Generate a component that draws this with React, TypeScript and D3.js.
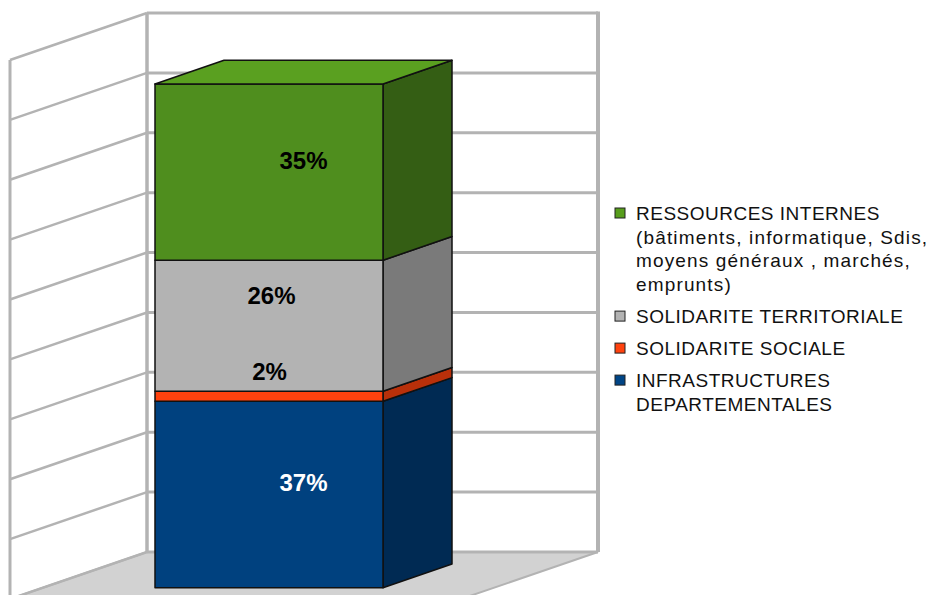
import React from "react";
import * as d3 from "d3";

// ---- data ----
const seriesNames = [
  "INFRASTRUCTURES DEPARTEMENTALES",
  "SOLIDARITE SOCIALE",
  "SOLIDARITE TERRITORIALE",
  "RESSOURCES INTERNES (bâtiments, informatique, Sdis, moyens généraux , marchés, emprunts)",
];
const legendLines = [
  ["INFRASTRUCTURES", "DEPARTEMENTALES"],
  ["SOLIDARITE SOCIALE"],
  ["SOLIDARITE TERRITORIALE"],
  ["RESSOURCES INTERNES", "(bâtiments, informatique, Sdis,", "moyens généraux , marchés,", "emprunts)"],
];
const values = [37, 2, 26, 35];
const valueLabels = ["37%", "2%", "26%", "35%"];
const axisMax = 107;
const gridCount = 9;

// colours: front, side, top, legend
const frontColors = ["#00417f", "#ff420e", "#b3b3b3", "#4f8e1e"];
const sideColors = ["#002a53", "#b8300a", "#7a7a7a", "#345e14"];
const topColors = ["#0a5299", "#ff6a3a", "#c8c8c8", "#5aa020"];
const legendColors = ["#004586", "#ff420e", "#b3b3b3", "#579d1c"];
const labelColors = ["#ffffff", "#000000", "#000000", "#000000"];

export default function App() {
  const W = 928, H = 595;
  const k = 0.343; // oblique depth slope
  const wallX0 = 147, wallX1 = 598;
  const y = d3.scaleLinear().domain([0, axisMax]).range([552, 13]);
  const wallDepth = 137;
  const barX0 = 259, barX1 = 487;
  const zBack = 35, zFront = 104;
  const P = (X: number, v: number, z: number): [number, number] => [X - z, y(v) + z * k];
  const poly = (pts: [number, number][]) => pts.map((p) => p.join(",")).join(" ");

  const stack = d3.stack<number[]>().keys(values.map((_, i) => String(i)))
    .value((d, key) => d[+key])([values]);

  const gridVals = d3.range(gridCount + 1).map((i) => (i * axisMax) / gridCount);
  const gridColor = "#b3b3b3";

  const labelDx = [0, -34, -32, 0];
  const labelDy = [0, -13, -19, 0];

  const legendX = 615;
  let cursor = 220;
  const legendItems = [3, 2, 1, 0].map((i) => {
    const first = cursor;
    const lines = legendLines[i].map((t, j) => ({ t, yb: first + j * 23.7 }));
    cursor = first + (legendLines[i].length - 1) * 23.7 + 32;
    return { i, first, lines };
  });

  return (
    <svg width={W} height={H} style={{ position: "absolute", left: 0, top: 0, background: "#fff" }}
      fontFamily="'Liberation Sans', Arial, sans-serif">
      <polygon points={poly([P(wallX0, 0, 0), P(wallX1, 0, 0), P(wallX1, 0, wallDepth), P(wallX0, 0, wallDepth)])}
        fill="#d2d2d2" stroke={gridColor} strokeWidth={2} />
      {gridVals.map((v, i) => (
        <g key={"g" + i}>
          <line x1={wallX0} x2={wallX1} y1={y(v)} y2={y(v)} stroke={gridColor} strokeWidth={3} />
          <line x1={P(wallX0, v, 0)[0]} y1={P(wallX0, v, 0)[1]} x2={P(wallX0, v, wallDepth)[0]} y2={P(wallX0, v, wallDepth)[1]}
            stroke={gridColor} strokeWidth={2.5} />
        </g>
      ))}
      <line x1={wallX0} x2={wallX0} y1={y(axisMax)} y2={y(0)} stroke={gridColor} strokeWidth={3.5} />
      <line x1={wallX1} x2={wallX1} y1={y(axisMax) - 1.5} y2={y(0)} stroke={gridColor} strokeWidth={4} />
      <line x1={P(wallX0, axisMax, wallDepth)[0]} x2={P(wallX0, 0, wallDepth)[0]}
        y1={P(wallX0, axisMax, wallDepth)[1]} y2={H} stroke={gridColor} strokeWidth={3} />

      {stack.map((s, i) => {
        const [v0, v1] = s[0] as unknown as [number, number];
        const front = [P(barX0, v0, zFront), P(barX1, v0, zFront), P(barX1, v1, zFront), P(barX0, v1, zFront)];
        const side = [P(barX1, v0, zFront), P(barX1, v0, zBack), P(barX1, v1, zBack), P(barX1, v1, zFront)];
        const top = [P(barX0, v1, zFront), P(barX1, v1, zFront), P(barX1, v1, zBack), P(barX0, v1, zBack)];
        return (
          <g key={"s" + i} stroke="#111" strokeWidth={1.5} strokeLinejoin="round">
            <polygon points={poly(side)} fill={sideColors[i]} />
            <polygon points={poly(front)} fill={frontColors[i]} />
            {i === stack.length - 1 && <polygon points={poly(top)} fill={topColors[i]} />}
          </g>
        );
      })}
      {stack.map((s, i) => {
        const [v0, v1] = s[0] as unknown as [number, number];
        const zm = (zFront + zBack) / 2;
        const [lx, ly] = P((barX0 + barX1) / 2, (v0 + v1) / 2, zm);
        return (
          <text key={"l" + i} x={lx + labelDx[i]} y={ly + labelDy[i]} dy="0.36em" textAnchor="middle"
            fontSize={24} fontWeight="bold" fill={labelColors[i]}>{valueLabels[i]}</text>
        );
      })}
      {legendItems.map(({ i, first, lines }) => (
        <g key={"lg" + i}>
          <rect x={legendX} y={first - 12} width={10} height={10} fill={legendColors[i]} stroke="#222" strokeWidth={1} />
          {lines.map((l, j) => (
            <text key={j} x={636} y={l.yb} fontSize={19} fill="#111"
              letterSpacing={/[a-z]/.test(l.t) ? 1.15 : 0.5}>{l.t}</text>
          ))}
        </g>
      ))}
      <title>{seriesNames.join(" / ")}</title>
    </svg>
  );
}
